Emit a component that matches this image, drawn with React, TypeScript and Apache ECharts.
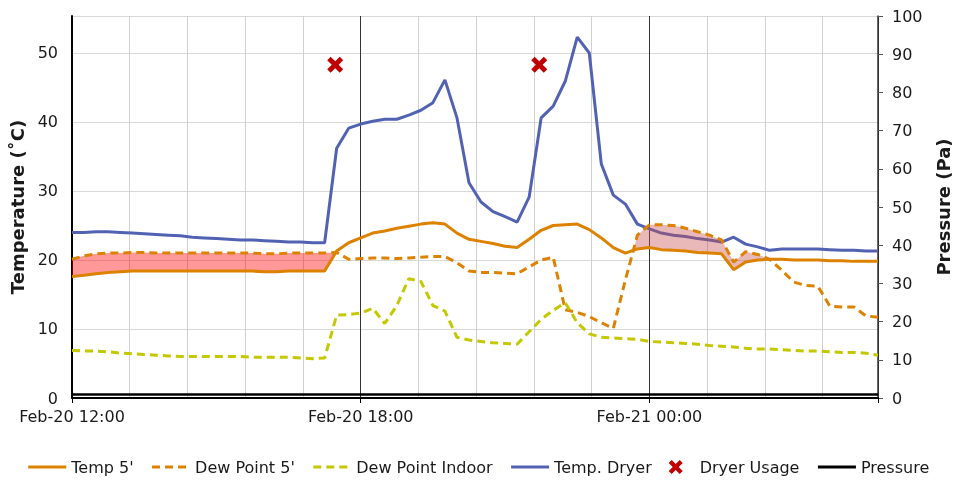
import React, { useEffect, useRef } from "react";
import * as echarts from "echarts";

// Hours after Feb-20 12:00, one sample every 15 minutes (68 samples, 12:00 .. 04:45)
const SAMPLE_COUNT = 68;
const STEP_HOURS = 0.25;
const TIMES: number[] = Array.from({ length: SAMPLE_COUNT }, (_, i) => i * STEP_HOURS);

const X_TICK_LABELS = ["Feb-20 12:00", "Feb-20 18:00", "Feb-21 00:00"];

const TEMP_5 = [
  17.6, 17.8, 18.0, 18.2, 18.3, 18.4, 18.4, 18.4, 18.4, 18.4, 18.4, 18.4, 18.4, 18.4, 18.4, 18.4,
  18.3, 18.3, 18.4, 18.4, 18.4, 18.4,
  21.3, 22.5, 23.2, 23.9, 24.2, 24.6, 24.9, 25.2, 25.4, 25.2,
  23.9, 23.0, 22.7, 22.4, 22.0, 21.8, 23.0, 24.3, 25.0, 25.1,
  25.2, 24.4, 23.2, 21.8, 21.0, 21.6, 21.8, 21.5, 21.4, 21.3,
  21.1, 21.0, 20.9, 18.6, 19.7, 20.0, 20.1, 20.1, 20.0, 20.0,
  20.0, 19.9, 19.9, 19.8, 19.8, 19.8,
];

const DEW_POINT_5 = [
  20.1, 20.6, 20.9, 21.0, 21.0, 21.1, 21.1, 21.0, 21.0, 21.0, 21.0, 21.0, 21.0, 21.0, 21.0, 21.0,
  20.9, 20.9, 21.0, 21.0, 21.0, 21.0,
  21.1, 20.1, 20.2, 20.3, 20.3, 20.2, 20.3, 20.4, 20.5, 20.5,
  19.6, 18.4, 18.2, 18.2, 18.1, 18.0, 19.0, 20.0, 20.4, 12.8,
  12.4, 11.8, 10.9, 10.1, 17.1, 23.6, 25.1, 25.1, 25.0, 24.6,
  24.1, 23.6, 22.9, 19.7, 21.2, 20.8, 20.1, 18.5, 16.8, 16.3,
  16.2, 13.3, 13.2, 13.2, 11.9, 11.7,
];

const DEW_POINT_INDOOR = [
  6.9, 6.8, 6.8, 6.7, 6.5, 6.4, 6.3, 6.2, 6.1, 6.0, 6.0, 6.0, 6.0, 6.0, 6.0, 5.9,
  5.9, 5.9, 5.9, 5.8, 5.7, 5.8,
  12.0, 12.1, 12.3, 13.0, 10.8, 13.4, 17.3, 16.9, 13.4, 12.6,
  8.8, 8.4, 8.2, 8.0, 7.9, 7.8, 9.6, 11.4, 12.7, 13.8,
  10.9, 9.3, 8.8, 8.7, 8.6, 8.5, 8.2, 8.1, 8.0, 7.9,
  7.8, 7.6, 7.5, 7.4, 7.2, 7.1, 7.1, 7.0, 6.9, 6.8,
  6.8, 6.7, 6.6, 6.6, 6.5, 6.2,
];

const TEMP_DRYER = [
  24.0, 24.0, 24.1, 24.1, 24.0, 23.9, 23.8, 23.7, 23.6, 23.5, 23.3, 23.2, 23.1, 23.0, 22.9, 22.9,
  22.8, 22.7, 22.6, 22.6, 22.5, 22.5,
  36.2, 39.1, 39.7, 40.1, 40.4, 40.4, 41.0, 41.7, 42.8, 46.1,
  40.6, 31.2, 28.4, 27.0, 26.3, 25.5, 29.1, 40.6, 42.3, 45.9,
  52.3, 50.0, 33.9, 29.4, 28.1, 25.2, 24.5, 23.9, 23.6, 23.4,
  23.1, 22.9, 22.6, 23.3, 22.3, 21.9, 21.4, 21.6, 21.6, 21.6,
  21.6, 21.5, 21.4, 21.4, 21.3, 21.3,
];

const PRESSURE = [
  0.9, 0.9, 0.9, 0.9, 0.9, 0.9, 0.9, 0.9, 0.9, 0.9, 0.9, 0.9, 0.9, 0.9, 0.9, 0.9,
  0.9, 0.9, 0.9, 0.9, 0.9, 0.9,
  0.9, 0.9, 0.9, 0.9, 0.9, 0.9, 0.9, 0.9, 0.9, 0.9,
  0.9, 0.9, 0.9, 0.9, 0.9, 0.9, 0.9, 0.9, 0.9, 0.9,
  0.9, 0.9, 0.9, 0.9, 0.9, 0.9, 0.9, 0.9, 0.9, 0.9,
  0.9, 0.9, 0.9, 0.9, 0.9, 0.9, 0.9, 0.9, 0.9, 0.9,
  0.9, 0.9, 0.9, 0.9, 0.9, 0.9,
];

const DRYER_USAGE_TIMES = [5.47, 9.71];
const DRYER_USAGE_VALUES = [48.3, 48.3];

const FONT = "DejaVu Sans";
const TEXT = "#1a1a1a";
const ORANGE = "#dc8200";
const YELLOW = "#c3c800";
const BLUE = "#5262b2";
const RED = "#c00000";

const X_PATH =
  "path://M0,3 L3,0 L7,4 L11,0 L14,3 L10,7 L14,11 L11,14 L7,10 L3,14 L0,11 L4,7 Z";

type Pt = [number, number];

function condensationRegions(): { left: boolean; pts: Pt[] }[] {
  const regions: { top: Pt[]; bot: Pt[] }[] = [];
  let cur: { top: Pt[]; bot: Pt[] } | null = null;
  for (let i = 0; i < SAMPLE_COUNT - 1; i++) {
    const x0 = TIMES[i], x1 = TIMES[i + 1];
    const t0 = TEMP_5[i], t1 = TEMP_5[i + 1];
    const d0 = DEW_POINT_5[i], d1 = DEW_POINT_5[i + 1];
    const a = d0 - t0, b = d1 - t1;
    if (a > 0) {
      if (!cur) cur = { top: [[x0, d0]], bot: [[x0, t0]] };
      if (b > 0) {
        cur.top.push([x1, d1]);
        cur.bot.push([x1, t1]);
      } else {
        const f = a / (a - b);
        const c: Pt = [x0 + f * (x1 - x0), t0 + f * (t1 - t0)];
        cur.top.push(c);
        cur.bot.push(c);
        regions.push(cur);
        cur = null;
      }
    } else if (b > 0) {
      const f = -a / (b - a);
      const c: Pt = [x0 + f * (x1 - x0), t0 + f * (t1 - t0)];
      cur = { top: [c, [x1, d1]], bot: [c, [x1, t1]] };
    }
  }
  if (cur) regions.push(cur);
  return regions.map((r) => ({
    left: r.top[0][0] < 9,
    pts: r.top.concat(r.bot.slice().reverse()),
  }));
}

export default function App() {
  const ref = useRef<HTMLDivElement>(null);

  useEffect(() => {
    if (!ref.current) return;
    const chart = echarts.init(ref.current, undefined, { renderer: "svg", width: 956, height: 483 });
    const pair = (arr: number[]) => TIMES.map((t, i) => [t, arr[i]]);
    const regions = condensationRegions();

    const lineBase = {
      type: "line",
      symbol: "none",
      showSymbol: false,
      xAxisIndex: 1,
      smooth: false,
    };

    chart.setOption({
      animation: false,
      textStyle: { fontFamily: FONT },
      grid: {
        left: 72,
        right: 78,
        top: 16,
        bottom: 85,
        containLabel: false,
        outerBoundsMode: "none",
      },
      legend: {
        data: [
          { name: "Temp 5'" },
          { name: "Dew Point 5'" },
          { name: "Dew Point Indoor" },
          { name: "Temp. Dryer" },
          { name: "Dryer Usage", itemStyle: { opacity: 1 } },
          { name: "Pressure" },
        ],
        left: "center",
        top: 454,
        itemWidth: 38,
        itemHeight: 14,
        itemGap: 17,
        itemStyle: { opacity: 0 },
        lineStyle: { width: 3 },
        textStyle: { fontSize: 16, color: TEXT, fontFamily: FONT },
      },
      xAxis: [
        {
          type: "value",
          min: 0,
          max: 16.75,
          interval: 1.2,
          position: "top",
          axisLine: { show: false },
          axisTick: { show: false },
          axisLabel: { show: false },
          splitLine: { show: true, lineStyle: { color: "#cfcfcf", width: 1 } },
        },
        {
          type: "value",
          min: 0,
          max: 16.75,
          interval: 6,
          position: "bottom",
          axisLine: { show: true, onZero: false, lineStyle: { color: "#000", width: 2 } },
          axisTick: { show: true, length: 5, lineStyle: { color: "#000" } },
          axisLabel: {
            show: true,
            fontSize: 16,
            color: TEXT,
            fontFamily: FONT,
            margin: 10,
            formatter: (v: number) => {
              const k = Math.round(v / 6);
              return Math.abs(v - k * 6) < 1e-6 && X_TICK_LABELS[k] ? X_TICK_LABELS[k] : "";
            },
          },
          splitLine: { show: true, lineStyle: { color: "#333", width: 1 } },
        },
      ],
      yAxis: [
        {
          type: "value",
          position: "left",
          min: 0,
          max: 55.36,
          interval: 10,
          name: "Temperature (˚C)",
          nameLocation: "middle",
          nameGap: 37,
          nameTextStyle: { fontSize: 18, fontWeight: "bold", color: TEXT, fontFamily: FONT },
          axisLine: { show: true, onZero: false, lineStyle: { color: "#000", width: 2 } },
          axisTick: { show: false },
          axisLabel: {
            fontSize: 16,
            color: TEXT,
            fontFamily: FONT,
            margin: 14,
            formatter: (v: number) => (Math.abs(v % 10) < 1e-6 ? String(v) : ""),
          },
          splitLine: { show: true, lineStyle: { color: "#d9d9d9", width: 1 } },
        },
        {
          type: "value",
          position: "right",
          min: 0,
          max: 100,
          interval: 10,
          name: "Pressure (Pa)",
          nameLocation: "middle",
          nameGap: 56,
          nameTextStyle: { fontSize: 18, fontWeight: "bold", color: TEXT, fontFamily: FONT },
          axisLine: { show: true, onZero: false, lineStyle: { color: "#333", width: 1.5 } },
          axisTick: { show: true, inside: false, length: 5, lineStyle: { color: "#555" } },
          axisLabel: { fontSize: 16, color: TEXT, fontFamily: FONT, margin: 14 },
          splitLine: { show: false },
        },
      ],
      series: [
        {
          ...lineBase,
          name: "Temp. Dryer",
          data: pair(TEMP_DRYER),
          z: 2,
          lineStyle: { color: BLUE, width: 3 },
          itemStyle: { color: BLUE },
        },
        {
          type: "custom",
          name: "condensation",
          xAxisIndex: 1,
          yAxisIndex: 0,
          z: 3,
          silent: true,
          data: [[0, 0]],
          encode: { x: 0, y: 1 },
          renderItem: (_params: any, api: any) => ({
            type: "group",
            children: regions.map((r) => ({
              type: "polygon",
              shape: { points: r.pts.map((p) => api.coord(p)) },
              style: {
                fill: r.left ? "rgba(255,0,0,0.4)" : "rgba(200,80,80,0.4)",
                stroke: "none",
              },
            })),
          }),
        },
        {
          ...lineBase,
          name: "Temp 5'",
          data: pair(TEMP_5),
          z: 4,
          lineStyle: { color: ORANGE, width: 3 },
          itemStyle: { color: ORANGE },
        },
        {
          ...lineBase,
          name: "Dew Point 5'",
          data: pair(DEW_POINT_5),
          z: 4,
          lineStyle: { color: ORANGE, width: 3, type: [8, 5] },
          itemStyle: { color: ORANGE },
        },
        {
          ...lineBase,
          name: "Dew Point Indoor",
          data: pair(DEW_POINT_INDOOR),
          z: 4,
          lineStyle: { color: YELLOW, width: 3, type: [8, 5] },
          itemStyle: { color: YELLOW },
        },
        {
          type: "scatter",
          name: "Dryer Usage",
          xAxisIndex: 1,
          yAxisIndex: 0,
          symbol: X_PATH,
          symbolSize: 16,
          z: 5,
          itemStyle: { color: RED, opacity: 1 },
          data: DRYER_USAGE_TIMES.map((t, i) => [t, DRYER_USAGE_VALUES[i]]),
        },
        {
          ...lineBase,
          name: "Pressure",
          yAxisIndex: 1,
          data: pair(PRESSURE),
          z: 5,
          lineStyle: { color: "#000", width: 2.5 },
          itemStyle: { color: "#000" },
        },
      ],
    });
    return () => chart.dispose();
  }, []);

  return (
    <div
      ref={ref}
      style={{ position: "fixed", left: 0, top: 0, width: 956, height: 483 }}
    />
  );
}
